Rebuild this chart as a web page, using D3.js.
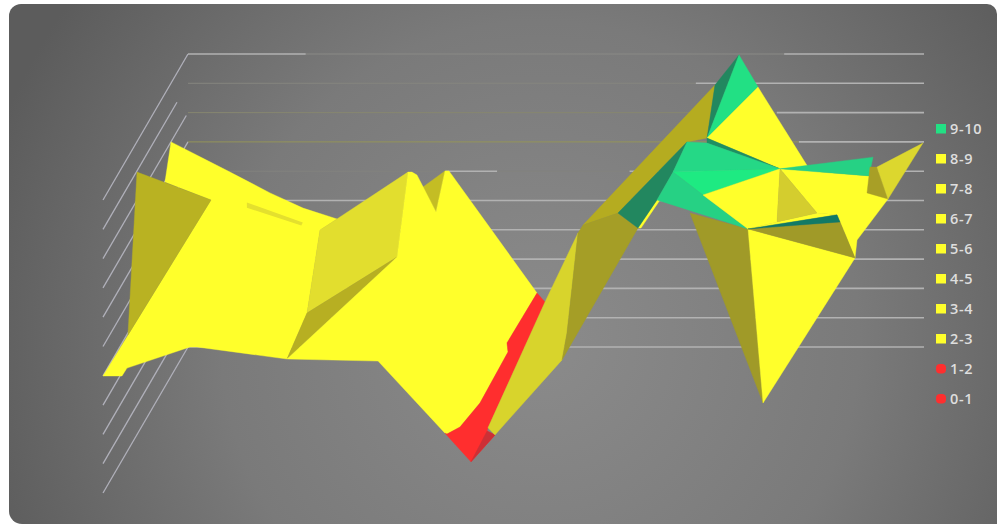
<!DOCTYPE html>
<html>
<head>
<meta charset="utf-8">
<script src="https://cdn.jsdelivr.net/npm/d3@7"></script>
<style>
  html, body { margin: 0; padding: 0; background: #fff; }
  svg { display: block; }
</style>
</head>
<body>
<div id="chart"></div>
<script>
const width = 997, height = 524;

// Legend bands, top to bottom
const bandLabels = ["9-10", "8-9", "7-8", "6-7", "5-6", "4-5", "3-4", "2-3", "1-2", "0-1"];
const bandColors = ["#22e084", "#ffff2b", "#ffff2b", "#ffff2b", "#ffff2b", "#ffff2b", "#ffff2b", "#ffff2b", "#ff2e2e", "#ff2e2e"];

// Value levels on the back wall
const wallLevels = [0, 1, 2, 3, 4, 5, 6, 7, 8, 9, 10];

// Stretches of each wall level that read as faint, along the category axis
const wallFaint = {
  10: [[16, 81]],
  9: [[0, 69]],
  8: [[0, 80]],
  7: [[0, 83]],
  6: [[0, 35], [42, 60]],
  5: [[0, 13]]
};

// Tint of the faint stretches; the lower levels pick up the surface colour
const faintTint = { 10: "#8a8a86", 9: "#85857f", 8: "#868670", 7: "#94945a", 6: "#83837f", 5: "#83837f" };

// Side wall lines that start short of the back wall (fraction of the depth)
const sideStart = { 9: 0.13, 8: 0.02 };

// Projected surface vertices: [category position, value level on the wall]
const vertices = {
  A: [-2.31, 7.00], A1: [5.71, 5.97], A2: [11.14, 5.26], A3: [15.63, 4.74], E: [20.24, 4.37],
  B: [-3.13, 5.63], C: [-6.93, 5.97], D: [3.13, 5.02], F: [17.93, 3.99],
  G: [-11.55, -0.99], H: [-8.97, -0.99], I: [-8.29, -0.72], J: [0.27, 0], J2: [1.22, 0],
  K: [13.45, -0.41], L: [25.82, -0.48], M: [34.92, -2.94], N: [-8.16, 0.41],
  Q: [16.17, 1.16], R: [28.40, 3.07], P0: [29.89, 5.97], P: [30.43, 5.97], P2: [31.11, 5.87],
  S0: [31.93, 5.46], S: [34.92, 6.01], S2: [35.46, 6.01], T: [33.70, 4.61],
  U: [47.42, 1.84], V: [48.51, 1.54],
  r1: [43.34, 0.14], r2: [43.48, -0.17], r3: [39.67, -1.91], r4: [36.96, -2.73], r5: [35.19, -2.97],
  X: [38.45, -3.92], W: [40.76, -2.76], AA: [41.71, -3.00], d: [40.63, -2.87],
  Y: [52.99, 3.89], Y2: [53.67, 4.16], Z1: [51.49, 0.48], Z: [50.82, -0.44],
  AB: [71.60, 8.94], AE: [70.52, 7.13], AH: [67.80, 7.00], AH2: [70.52, 6.96],
  o1: [58.42, 4.57], o2: [61.14, 4.06], AL: [63.72, 5.02], AJ: [65.90, 5.97],
  sl1: [64.13, 5.02], sl2: [61.55, 4.06],
  AC: [74.86, 9.97], AD: [77.45, 8.87], AF: [84.24, 6.14], AG: [80.43, 6.08],
  AI: [69.97, 5.19], AK: [76.09, 4.03], AM: [93.07, 6.48], AN: [92.53, 5.84],
  AO: [80.03, 4.27], AP: [85.46, 4.57], AQ: [95.11, 5.05], AQ2: [90.90, 3.65], AR: [90.63, 3.04],
  AS: [88.18, 4.51], AT: [88.59, 4.27], AU: [78.13, -1.91], AV: [68.21, 4.57],
  sm1: [92.66, 6.14], sm2: [92.26, 5.26], sm4: [93.61, 6.14], AX: [99.86, 6.96]
};

// Facets back to front: [fill, vertex names]
const facets = [
  ["#ffff2b", ["A", "A1", "A2", "A3", "E", "F", "Q", "K", "J2", "J", "I", "H", "G", "D", "B"]],
  ["#b9b222", ["C", "D", "N"]],
  ["#e2de2e", ["F", "E", "P0", "R", "Q"]],
  ["#b7af22", ["Q", "K", "R"]],
  ["#c4bd24", ["S0", "S", "T"]],
  ["#ffff2b", ["K", "R", "P0", "P", "P2", "T", "S", "S2", "U", "r1", "r2", "r3", "r4", "r5", "M", "L"]],
  ["#ff2e2e", ["U", "V", "W", "d", "AA", "X", "M", "r5", "r4", "r3", "r2", "r1"]],
  ["#cc3036", ["AA", "d", "X"]],
  ["#d8d42c", ["V", "Y", "Z1", "Z", "AA", "W"]],
  ["#b5ac20", ["Y2", "AB", "AE", "AH", "o1"]],
  ["#a59e26", ["Y2", "o1", "o2", "Z", "Z1", "Y"]],
  ["#a09a28", ["AV", "AK", "AU"]],
  ["#ffff2b", ["o2", "AL", "sl1", "sl2"]],
  ["#22875f", ["o1", "AH", "AJ", "AL", "o2"]],
  ["#22875f", ["AC", "AB", "AE"]],
  ["#22e084", ["AC", "AD", "AE"]],
  ["#ffff2b", ["AE", "AD", "AF", "AG"]],
  ["#1f8f63", ["AE", "AH2", "AG"]],
  ["#25d886", ["AH", "AH2", "AG", "AJ"]],
  ["#1eea82", ["AJ", "AG", "AI"]],
  ["#26d184", ["AJ", "AI", "AK", "AL"]],
  ["#ffff2b", ["AI", "AG", "AO", "AK"]],
  ["#ffff2b", ["AO", "AP", "AS", "AK"]],
  ["#ffff2b", ["AG", "AN", "AQ", "AQ2", "AR", "AT", "AS", "AP"]],
  ["#d4cd2e", ["AG", "AO", "AP"]],
  ["#26d184", ["AG", "AM", "AN"]],
  ["#a89f26", ["sm1", "sm2", "AQ", "sm4"]],
  ["#dcd72e", ["sm4", "AX", "AQ"]],
  ["#ffff2b", ["AK", "AR", "AU"]],
  ["#a09a28", ["AK", "AT", "AR"]],
  ["#117a66", ["AK", "AS", "AT"]]
];

// Raised streak on the left yellow sheet
const streak = ["#e4e02e", [[8.0, 4.93], [15.6, 4.25], [15.4, 4.15], [8.0, 4.75]]];

// Scales: category position along the back wall, value level up the wall
const x = d3.scaleLinear().domain([0, 100]).range([188, 924]);
const y = d3.scaleLinear().domain([0, 10]).range([347, 54]);
// Depth of the floor, front edge of the chart relative to the back wall
const depthDx = -85, depthDy = 146;

const svg = d3.select("#chart").append("svg").attr("width", width).attr("height", height);

const defs = svg.append("defs");
const glow = defs.append("radialGradient").attr("id", "panel")
  .attr("gradientUnits", "userSpaceOnUse")
  .attr("cx", 540).attr("cy", 340).attr("r", 580);
glow.append("stop").attr("offset", 0).attr("stop-color", "#8b8b8b");
glow.append("stop").attr("offset", 0.55).attr("stop-color", "#7a7a7a");
glow.append("stop").attr("offset", 1).attr("stop-color", "#5c5c5c");

// Panel: rounded on three corners, running off the page at the lower right
const panel = d3.path();
panel.moveTo(21, 4);
panel.lineTo(987, 4);
panel.arcTo(997, 4, 997, 14, 10);
panel.lineTo(997, 524);
panel.lineTo(22, 524);
panel.arcTo(9, 524, 9, 511, 13);
panel.lineTo(9, 16);
panel.arcTo(9, 4, 21, 4, 12);
panel.closePath();
svg.append("path").attr("d", panel.toString()).attr("fill", "url(#panel)");

// Side wall lines running from back to front
svg.append("g").selectAll("line").data(wallLevels).join("line")
  .attr("x1", d => x(0) + depthDx * (sideStart[d] || 0))
  .attr("y1", d => y(d) + depthDy * (sideStart[d] || 0))
  .attr("x2", x(0) + depthDx).attr("y2", d => y(d) + depthDy)
  .attr("stroke", "#b0b0ba").attr("stroke-width", 1.3);

// Back wall lines, brighter where nothing fades them
const wall = svg.append("g");
const segments = wallLevels.flatMap(level => {
  const faint = wallFaint[level] || [];
  const out = [];
  let cursor = 0;
  faint.forEach(([a, b]) => {
    if (a > cursor) out.push({ level, from: cursor, to: a, strong: true });
    out.push({ level, from: a, to: b, strong: false });
    cursor = b;
  });
  if (cursor < 100) out.push({ level, from: cursor, to: 100, strong: true });
  return out;
});
wall.selectAll("line").data(segments).join("line")
  .attr("x1", d => x(d.from)).attr("x2", d => x(d.to))
  .attr("y1", d => y(d.level)).attr("y2", d => y(d.level))
  .attr("stroke", d => d.strong ? "#b2b2b2" : faintTint[d.level])
  .attr("stroke-width", d => d.strong ? 1.6 : 1);

// Surface
const facetLine = d3.line().x(d => x(d[0])).y(d => y(d[1])).curve(d3.curveLinearClosed);
svg.append("g").selectAll("path").data(facets).join("path")
  .attr("d", d => facetLine(d[1].map(name => vertices[name])))
  .attr("fill", d => d[0])
  .attr("stroke", d => d[0])
  .attr("stroke-width", 0.4)
  .attr("stroke-linejoin", "round");

svg.append("path")
  .attr("d", facetLine(streak[1]))
  .attr("fill", streak[0]);

// Legend
const legendY = d3.scalePoint().domain(bandLabels).range([129, 399]);
const legend = svg.append("g").selectAll("g").data(bandLabels).join("g")
  .attr("transform", d => `translate(0,${legendY(d)})`);
legend.append("rect")
  .attr("x", 936).attr("y", -5)
  .attr("width", 10).attr("height", 9.5)
  .attr("rx", (d, i) => i >= 8 ? 4 : 0)
  .attr("fill", (d, i) => bandColors[i]);
legend.append("text")
  .attr("x", 950).attr("y", 5)
  .attr("font-family", "'Open Sans', sans-serif")
  .attr("font-size", 14.5)
  .attr("font-weight", 600)
  .attr("letter-spacing", 0.7)
  .attr("fill", "#dedede")
  .text(d => d);
</script>
</body>
</html>
